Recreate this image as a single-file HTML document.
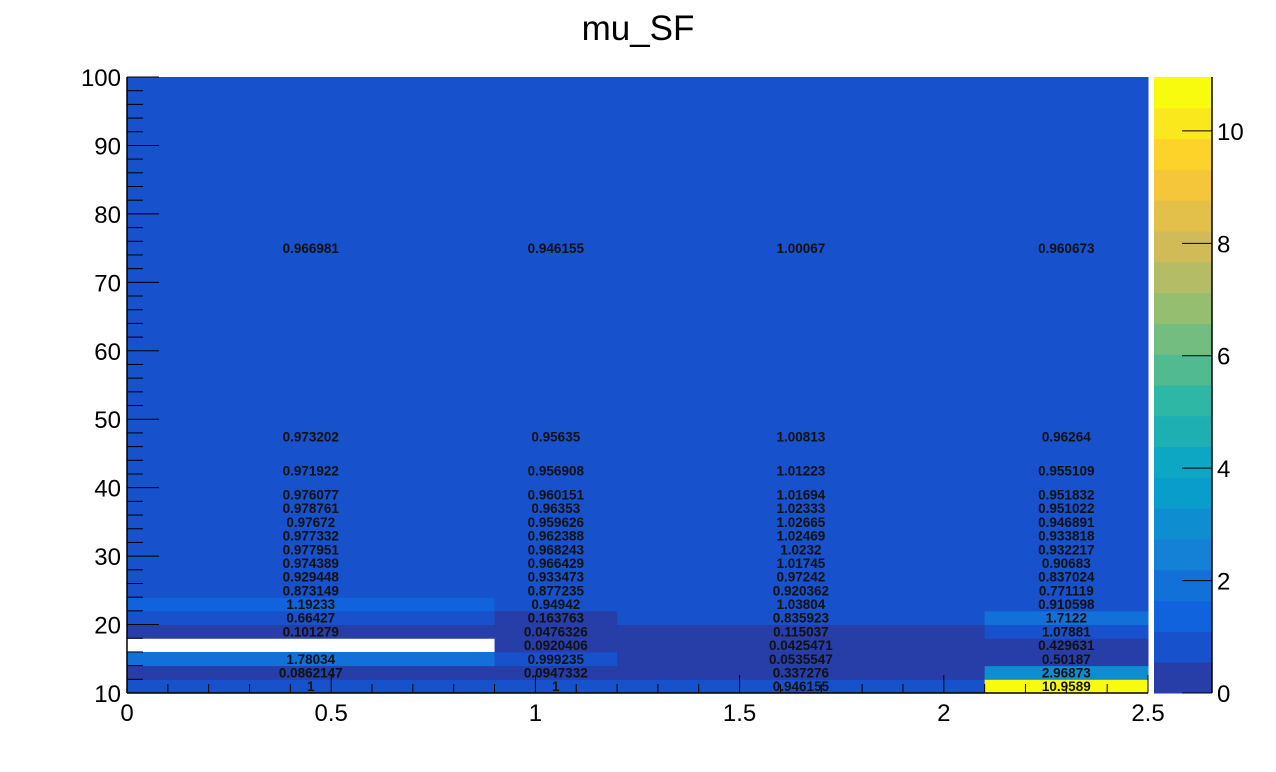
<!DOCTYPE html>
<html><head><meta charset="utf-8"><style>
html,body{margin:0;padding:0;background:#fff;}
svg{display:block;font-family:"Liberation Sans",sans-serif;}
</style></head><body>
<svg id="c" width="1276" height="772">
<text x="638" y="40" font-size="35" text-anchor="middle">mu_SF</text>
</svg>
<script>
const xEdges=[0,0.9,1.2,2.1,2.5];
const yEdges=[10,12,14,16,18,20,22,24,26,28,30,32,34,36,38,40,45,50,100];
const col1=[1,0.0862147,1.78034,0,0.101279,0.66427,1.19233,0.873149,0.929448,0.974389,0.977951,0.977332,0.97672,0.978761,0.976077,0.971922,0.973202,0.966981];
const col2=[1,0.0947332,0.999235,0.0920406,0.0476326,0.163763,0.94942,0.877235,0.933473,0.966429,0.968243,0.962388,0.959626,0.96353,0.960151,0.956908,0.95635,0.946155];
const col3=[0.946155,0.337276,0.0535547,0.0425471,0.115037,0.835923,1.03804,0.920362,0.97242,1.01745,1.0232,1.02469,1.02665,1.02333,1.01694,1.01223,1.00813,1.00067];
const col4=[10.9589,2.96873,0.50187,0.429631,1.07881,1.7122,0.910598,0.771119,0.837024,0.90683,0.932217,0.933818,0.946891,0.951022,0.951832,0.955109,0.96264,0.960673];
const cols=[col1,col2,col3,col4];
const xTicks=[0,0.5,1,1.5,2,2.5];
const xTickLabels=["0","0.5","1","1.5","2","2.5"];
const yTicks=[10,20,30,40,50,60,70,80,90,100];
const zTicks=[0,2,4,6,8,10];
const zMax=10.9589;

const svg=document.getElementById('c');
const NS='http://www.w3.org/2000/svg';
const X0=127,X1=1148,Y0=693,Y1=77;
const sx=v=>X0+(v-0)/(2.5-0)*(X1-X0);
const sy=v=>Y0-(v-10)/(100-10)*(Y0-Y1);
const PZ0=693,PZ1=77;
const sz=v=>PZ0-v/zMax*(PZ0-PZ1);
function mk(t,a){const e=document.createElementNS(NS,t);for(const k in a)e.setAttribute(k,a[k]);svg.appendChild(e);return e;}
const st=[0,.125,.25,.375,.5,.625,.75,.875,1];
const R=[0.2082,0.0592,0.0780,0.0232,0.1802,0.5301,0.8186,0.9956,0.9764];
const G=[0.1664,0.3599,0.5041,0.6419,0.7178,0.7492,0.7328,0.7862,0.9832];
const B=[0.5293,0.8684,0.8385,0.7914,0.6425,0.4662,0.3499,0.1968,0.0539];
function bird(f){let i=0;while(i<7&&f>st[i+1])i++;const t=(f-st[i])/(st[i+1]-st[i]);
 const c=a=>Math.round(255*(a[i]+(a[i+1]-a[i])*t));return `rgb(${c(R)},${c(G)},${c(B)})`;}
function lvlColor(l){const idx=Math.floor(0.01+(l+0.99)*255/20);return bird(Math.min(idx,254)/254);}
function lvl(v){return Math.min(19,Math.floor(v/zMax*20));}
cols.forEach((col,ci)=>{col.forEach((v,ri)=>{
 if(v===0)return;
 const r=mk('rect',{x:sx(xEdges[ci]),y:sy(yEdges[ri+1]),width:sx(xEdges[ci+1])-sx(xEdges[ci])+0.5,height:sy(yEdges[ri])-sy(yEdges[ri+1])+0.5,fill:lvlColor(lvl(v))});
 
 
});});
cols.forEach((col,ci)=>{col.forEach((v,ri)=>{
 if(v===0)return;
 const t=mk('text',{x:(sx(xEdges[ci])+sx(xEdges[ci+1]))/2,y:(sy(yEdges[ri])+sy(yEdges[ri+1]))/2+5,'font-size':13.5,'font-weight':'bold','text-anchor':'middle',fill:'#111'});
 t.textContent=String(v);
 
 
});});
mk('line',{x1:X0,y1:Y0,x2:X1,y2:Y0,stroke:'#000','stroke-width':1.5});
mk('line',{x1:X0,y1:Y0,x2:X0,y2:Y1,stroke:'#000','stroke-width':1.5});
for(let v=0;v<=2.5001;v+=0.1){const maj=Math.abs(v*2-Math.round(v*2))<1e-6;
 mk('line',{x1:sx(v),y1:Y0,x2:sx(v),y2:Y0-(maj?18:9),stroke:'#000','stroke-width':1});}
xTicks.forEach((v,i)=>{const t=mk('text',{x:sx(v),y:721,'font-size':24,'text-anchor':'middle'});t.textContent=xTickLabels[i];
 });
for(let v=10;v<=100;v+=2){const maj=v%10===0;
 mk('line',{x1:X0,y1:sy(v),x2:X0+(maj?32:16),y2:sy(v),stroke:'#000','stroke-width':1});}
yTicks.forEach(v=>{const t=mk('text',{x:121,y:sy(v)+9,'font-size':24,'text-anchor':'end'});t.textContent=String(v);
 });
for(let l=0;l<20;l++){const r=mk('rect',{x:1154,y:sz((l+1)*zMax/20),width:58,height:sz(l*zMax/20)-sz((l+1)*zMax/20)+0.5,fill:lvlColor(l)});
 }
mk('line',{x1:1212,y1:PZ0,x2:1212,y2:PZ1,stroke:'#000','stroke-width':1.5});
zTicks.forEach(v=>{mk('line',{x1:1182,y1:sz(v),x2:1212,y2:sz(v),stroke:'#000','stroke-width':1});
 const t=mk('text',{x:1217,y:sz(v)+9,'font-size':24});t.textContent=String(v);
 });
</script>
</body></html>
